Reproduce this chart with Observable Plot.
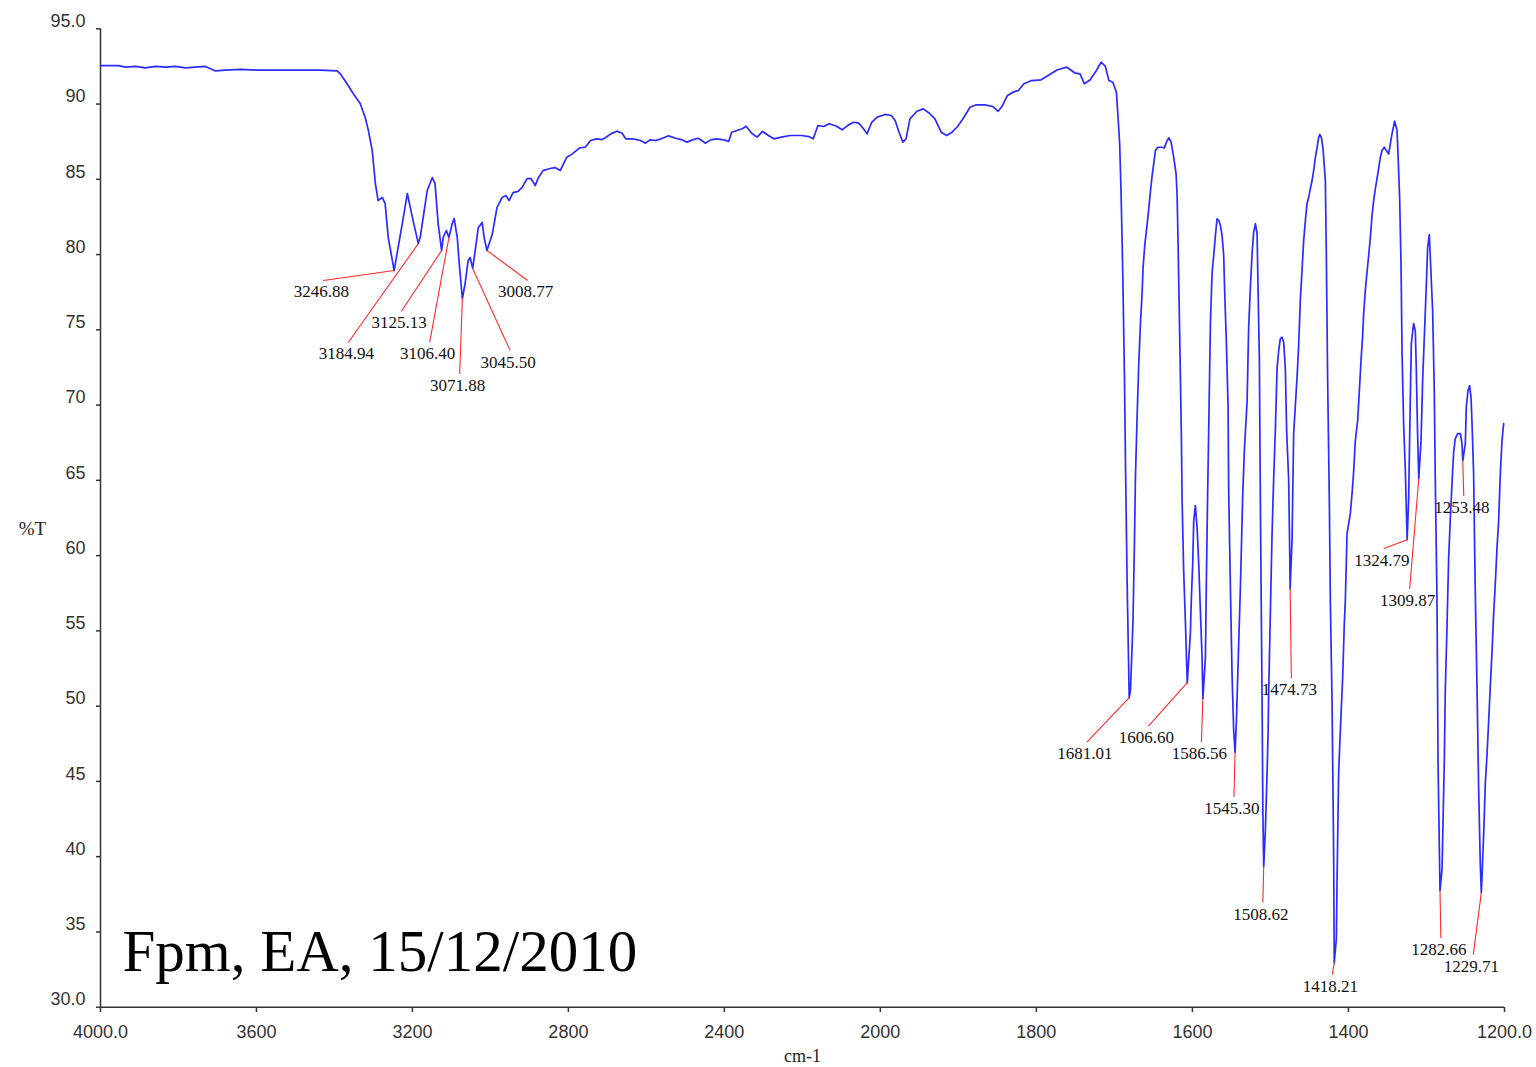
<!DOCTYPE html>
<html><head><meta charset="utf-8">
<script src="https://cdn.jsdelivr.net/npm/d3@7"></script>
<script src="https://cdn.jsdelivr.net/npm/@observablehq/plot@0.6"></script>
<style>html,body{margin:0;padding:0;background:#fff;} #chart{width:1536px;height:1067px;}</style>
</head><body><div id="chart"></div>
<script>
const wavenumber = [4000,3954,3936,3910,3885,3859,3833,3808,3782,3757,3731,3705,3680,3641,3590,3539,3488,3436,3393,3385,3368,3352,3334,3321,3313,3303,3295,3288,3277,3270,3262,3246.88,3226,3213,3200,3184.94,3180,3162,3149,3142,3134,3125.13,3121,3113,3106.40,3098,3093,3085,3080,3071.88,3065,3057,3052,3045.50,3039,3031,3021,3016,3008.77,2995,2983,2970,2960,2952,2942,2929,2919,2906,2896,2885,2878,2865,2847,2834,2821,2804,2790,2771,2757,2743,2728,2714,2705,2691,2676,2662,2653,2634,2615,2602,2591,2577,2562,2543,2525,2510,2496,2482,2468,2458,2449,2435,2420,2401,2389,2381,2368,2354,2344,2330,2316,2302,2287,2273,2254,2231,2202,2183,2172,2160,2145,2131,2112,2098,2084,2069,2055,2043,2034,2022,2008,1994,1986,1981,1976,1971,1967,1962,1953,1945,1937,1930,1922,1915,1908,1901,1894,1885,1877,1866,1856,1849,1844,1837,1830,1823,1816,1806,1794,1785,1773,1761,1750,1744,1738.5,1731,1723,1717,1711.5,1707,1702,1697.4,1695.7,1693.2,1691.4,1689.3,1687.1,1685.8,1683.7,1681.6,1681.01,1679.4,1677.3,1676.0,1674.3,1673.0,1670.9,1668.8,1666.6,1664.5,1663.2,1661.1,1658.9,1656.8,1655.1,1653.4,1651.6,1649.6,1647.4,1644.5,1638.8,1635.9,1633.3,1630.4,1627.3,1624.0,1620.9,1619.6,1618.3,1616.3,1614.1,1613.2,1611.2,1609.0,1606.60,1602.6,1601.3,1599.6,1598.3,1596.2,1594.0,1591.9,1589.8,1587.6,1586.56,1583.3,1582.1,1580.4,1578.9,1576.9,1574.8,1572.7,1570.5,1568.4,1566.1,1564.1,1562.0,1559.9,1558.6,1556.4,1554.3,1553.5,1551.3,1549.1,1547.1,1545.30,1543.6,1541.7,1538.5,1535.6,1533.4,1529.9,1527.9,1525.7,1523.5,1521.5,1519.3,1517.1,1515.8,1514.2,1512.9,1510.7,1509.7,1508.62,1506.5,1504.3,1503.0,1502.3,1500.1,1497.9,1495.8,1493.7,1491.5,1489.4,1487.3,1485.1,1483.0,1480.9,1479.2,1476.6,1475.3,1474.73,1472.3,1470.2,1465.9,1463.8,1461.6,1459.5,1457.4,1455.2,1453.1,1451.0,1448.8,1446.6,1444.6,1442.4,1440.2,1438.2,1436.7,1434.7,1432.6,1429.6,1428.3,1426.7,1424.5,1423.2,1421.0,1419.0,1418.21,1415.5,1414.6,1412.6,1410.4,1407.4,1405.3,1404.0,1401.8,1397.6,1395.4,1393.4,1391.2,1388.2,1386.0,1383.9,1381.8,1380.5,1378.4,1376.2,1374.1,1371.9,1369.8,1367.7,1365.5,1363.4,1361.3,1359.1,1357.0,1354.0,1351.5,1348.5,1346.3,1344.2,1340.8,1337.7,1336.5,1334.4,1332.6,1331.3,1329.3,1327.1,1324.79,1322.9,1320.7,1319.4,1316.5,1314.3,1313.0,1311.4,1309.87,1307.0,1304.9,1302.8,1300.6,1298.5,1296.4,1294.2,1292.1,1290.0,1288.7,1286.5,1285.2,1282.66,1280.1,1278.8,1277.1,1275.9,1273.7,1271.6,1269.5,1267.3,1265.2,1263.1,1260.1,1256.6,1254.5,1253.48,1250.2,1249.0,1246.8,1244.7,1242.9,1241.6,1239.6,1237.4,1235.2,1233.2,1231.0,1229.71,1228.8,1226.8,1224.6,1222.4,1220.4,1218.2,1216.0,1214.0,1211.8,1209.6,1207.6,1205.4,1203.2,1201.1];
const transmittance = [92.55,92.55,92.45,92.5,92.4,92.5,92.45,92.5,92.4,92.45,92.5,92.2,92.25,92.3,92.25,92.25,92.25,92.25,92.2,92.01,91.37,90.70,90.04,89.11,88.25,86.91,84.72,83.59,83.79,83.39,81.13,78.94,82.06,84.06,82.46,80.73,81.15,84.26,85.12,84.72,82.06,80.27,81.15,81.6,81.13,82.06,82.4,81.13,79.41,77.08,78.06,79.61,79.81,79.08,80.27,81.8,82.13,81.13,80.27,81.38,83.13,83.79,83.92,83.59,84.12,84.2,84.45,85.05,85.05,84.59,85.05,85.58,85.72,85.78,85.58,86.47,86.69,87.09,87.13,87.58,87.69,87.64,87.76,88.02,88.20,88.06,87.69,87.69,87.58,87.40,87.62,87.58,87.69,87.89,87.73,87.64,87.47,87.62,87.73,87.58,87.40,87.62,87.69,87.62,87.51,88.13,88.24,88.36,88.53,88.06,87.80,88.18,87.91,87.69,87.80,87.91,87.91,87.84,87.69,88.57,88.51,88.69,88.53,88.29,88.57,88.79,88.73,88.36,88.02,88.79,89.13,89.31,89.24,88.91,88.13,87.47,87.69,89.02,89.52,89.68,89.39,89.02,88.13,87.91,88.13,88.51,89.02,89.79,89.95,89.95,89.84,89.52,89.84,90.57,90.79,90.90,91.35,91.56,91.61,91.90,92.28,92.45,92.05,92.01,91.35,91.61,92.23,92.78,92.50,91.56,91.45,90.79,89.46,87.36,84.04,78.94,71.96,66.32,58.34,52.36,50.57,51.03,53.89,56.02,60.80,65.19,69.17,72.63,75.42,77.41,79.14,80.60,81.60,82.59,83.48,84.39,85.25,86.03,86.91,87.13,87.13,87.09,87.47,87.76,87.47,86.47,85.37,83.92,80.60,74.73,67.84,63.66,59.01,55.62,51.56,54.82,57.21,59.47,62.33,63.33,61.86,59.47,56.35,53.23,50.5,53.23,58.34,64.32,68.97,75.49,78.74,79.94,81.27,82.38,82.26,81.93,81.27,79.94,77.48,74.09,69.97,64.32,57.88,51.90,48.38,46.93,49.04,52.36,57.88,63.86,66.98,70.24,75.15,77.81,80.07,81.47,82.06,81.40,77.61,73.16,63.66,50.37,43.06,39.33,41.73,45.52,48.18,50.70,56.15,61.47,65.19,68.31,72.43,73.62,74.42,74.51,74.18,72.43,68.31,64.99,60.34,57.8,61.0,68.11,71.83,73.96,77.08,78.94,80.93,82.26,83.39,83.79,84.39,84.92,85.58,86.45,87.11,87.78,87.98,87.78,87.03,84.92,79.82,71.85,63.66,57.01,50.17,40.40,32.96,34.55,38.41,45.52,48.38,51.90,55.49,57.01,61.47,62.79,64.12,65.54,67.64,68.97,70.97,72.96,74.62,76.08,77.61,78.83,79.94,81.15,82.59,83.59,84.39,85.05,85.72,86.47,86.91,87.13,86.91,86.69,87.36,88.02,88.86,88.24,86.69,83.81,79.27,73.43,68.77,65.65,61.05,63.66,70.50,74.09,75.42,74.95,72.30,68.11,65.1,67.64,71.63,74.49,77.41,80.47,81.33,78.74,76.28,70.97,64.99,57.01,46.38,37.74,39.14,42.26,46.51,51.03,55.29,59.80,62.40,64.79,66.85,67.78,68.11,68.11,67.45,66.3,67.45,69.84,70.97,71.30,70.50,68.77,65.45,57.41,51.17,44.65,39.47,37.61,38.67,41.33,44.85,46.78,48.91,51.30,53.62,56.02,58.14,60.53,62.20,65.39,67.64,68.77];

const peakLabels = ["3246.88","3184.94","3125.13","3106.40","3071.88","3045.50","3008.77","1681.01","1606.60","1586.56","1545.30","1508.62","1474.73","1418.21","1324.79","1309.87","1253.48","1282.66","1229.71"];
const peakWavenumber = [3246.88,3184.94,3125.13,3106.40,3071.88,3045.50,3008.77,1681.01,1606.60,1586.56,1545.30,1508.62,1474.73,1418.21,1324.79,1309.87,1253.48,1282.66,1229.71];
const peakTransmittance = [78.94,80.73,80.27,81.13,77.08,79.08,80.27,50.57,51.56,50.5,46.93,39.33,57.8,32.96,61.05,65.1,66.3,37.74,37.61];
const labelWavenumber = [3428.6,3364.5,3228.7,3155.7,3078.8,2949.4,2904.6,1735.2,1656.4,1588.5,1546.8,1509.7,1473.2,1420.6,1354.7,1321.6,1252.2,1281.6,1240.0];
const labelTransmittance = [78.28,74.16,76.22,74.19,72.06,73.62,78.28,47.61,48.67,47.61,43.96,36.95,51.86,32.16,60.47,57.78,63.96,34.59,33.49];

const xTicks = [4000,3600,3200,2800,2400,2000,1800,1600,1400,1200];
const yTicks = [30,35,40,45,50,55,60,65,70,75,80,85,90,95];
const titleText = "Fpm, EA, 15/12/2010";
const xLabel = "cm-1";
const yLabel = "%T";

const spectrum = wavenumber.map((w, i) => ({w, t: transmittance[i]}));
const peaks = peakLabels.map((label, i) => ({
  label, w: peakWavenumber[i], t: peakTransmittance[i],
  lw: labelWavenumber[i], lt: labelTransmittance[i]
}));

const fmtX = d => (d === 4000 || d === 1200) ? d.toFixed(1) : String(d);
const fmtY = d => (d === 30 || d === 95) ? d.toFixed(1) : String(d);
const sans = "'Liberation Sans', Arial, sans-serif";
const serif = "'Liberation Serif', 'Times New Roman', serif";

const chart = Plot.plot({
  width: 1536,
  height: 1067,
  marginLeft: 100,
  marginRight: 32,
  marginTop: 28,
  marginBottom: 60,
  style: {fontFamily: sans, fontSize: "18px", color: "#333", background: "#fff", overflow: "visible"},
  x: {type: "linear", domain: [4000, 2000, 1200], range: [100, 879.8, 1504], label: null},
  y: {type: "linear", domain: [30, 95], range: [1006.7, 28.3], label: null},
  marks: [
    Plot.axisX({ticks: xTicks, tickSize: 5, tickPadding: 13, tickFormat: fmtX, stroke: "#333", strokeWidth: 1.5, fill: "#333", fontSize: 18, label: null}),
    Plot.axisY({ticks: yTicks, tickSize: 4, tickFormat: () => "", stroke: "#333", strokeWidth: 1.5, label: null}),
    Plot.axisY({ticks: yTicks, tickSize: 0, tickPadding: 15, dy: -7.5, tickFormat: fmtY, fill: "#333", fontSize: 18, label: null}),
    Plot.ruleX([4000], {y1: 30, y2: 95, stroke: "#333", strokeWidth: 1.5}),
    Plot.ruleY([30], {x1: 4000, x2: 1200, stroke: "#333", strokeWidth: 1.5}),
    Plot.line(spectrum, {x: "w", y: "t", stroke: "#2b2bff", strokeWidth: 1.7}),
    Plot.link(peaks, {x1: "w", y1: "t", x2: "lw", y2: "lt", stroke: "#ff2a2a", strokeWidth: 1.1}),
    Plot.text(peaks, {x: "lw", y: "lt", text: "label", dx: -2, dy: 11.5, lineAnchor: "middle", fontFamily: serif, fontSize: 17, fill: "#111"}),
    Plot.text([titleText], {frameAnchor: "bottom-left", text: d => d, dx: 22, dy: -36.7, lineAnchor: "bottom", textAnchor: "start", fontFamily: serif, fontSize: 59, fill: "#000"}),
    Plot.text([xLabel], {frameAnchor: "bottom", text: d => d, dy: 48.5, lineAnchor: "middle", fontFamily: serif, fontSize: 18, fill: "#222"}),
    Plot.text([yLabel], {frameAnchor: "left", text: d => d, dx: -68, dy: 10.5, lineAnchor: "middle", textAnchor: "middle", fontFamily: serif, fontSize: 19, fill: "#222"})
  ]
});
document.getElementById("chart").appendChild(chart);
</script>
</body></html>
